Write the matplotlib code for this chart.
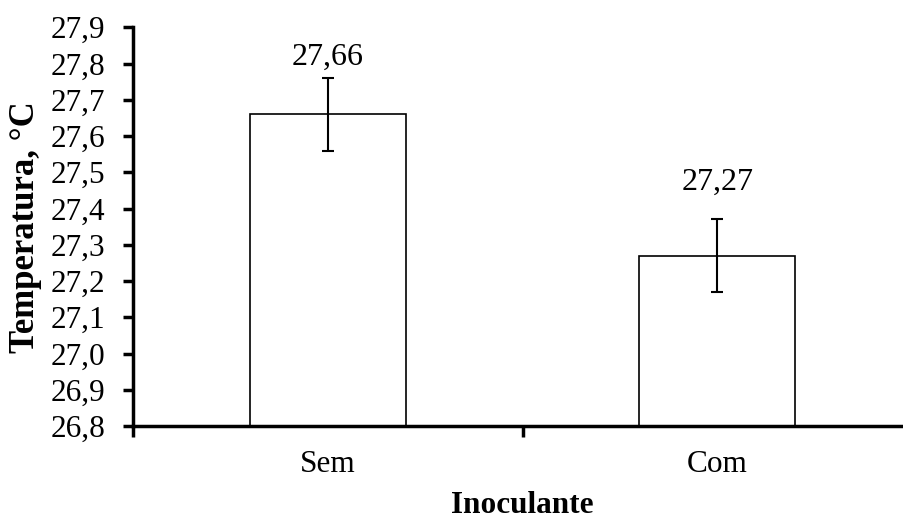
import matplotlib
matplotlib.use("Agg")
import matplotlib.pyplot as plt
from matplotlib.ticker import FuncFormatter, FixedLocator

categories = ["Sem", "Com"]
values = [27.66, 27.27]
errors = [0.10, 0.10]
value_labels = ["27,66", "27,27"]
y_ticks = [26.8, 26.9, 27.0, 27.1, 27.2, 27.3, 27.4, 27.5, 27.6, 27.7, 27.8, 27.9]

plt.rcParams['font.family'] = ['Liberation Serif', 'DejaVu Serif']

W, H = 904, 522
fig = plt.figure(figsize=(W / 100, H / 100), dpi=100)
left_px, right_px = 133, 912
top_px, bottom_px = 27.3, 426
ax = fig.add_axes([left_px / W, (H - bottom_px) / H,
                   (right_px - left_px) / W, (bottom_px - top_px) / H])

x = list(range(len(categories)))
ax.bar(x, [v - 26.8 for v in values], bottom=26.8, width=0.4,
       facecolor="white", edgecolor="black", linewidth=1.2, zorder=2)
ax.errorbar(x, values, yerr=errors, fmt="none", ecolor="black",
            elinewidth=1.5, capsize=4.5, capthick=1.5, zorder=3)

label_offsets = [15, 27]  # points above error bar top (label centre)
for xi, v, e, lab, off in zip(x, values, errors, value_labels, label_offsets):
    ax.annotate(lab, (xi, v + e), xytext=(0, off), textcoords="offset points",
                ha="center", va="center", fontsize=23)

ax.set_xlim(-0.5, 1.5)
ax.set_ylim(26.8, 27.9)
ax.yaxis.set_major_locator(FixedLocator(y_ticks))
ax.yaxis.set_major_formatter(FuncFormatter(lambda v, p: f"{v:.1f}".replace(".", ",")))

ax.set_xticks([-0.5, 0.5, 1.5])
ax.set_xticklabels(["", "", ""])
ax.set_xticks(x, minor=True)
ax.set_xticklabels(categories, minor=True)
ax.tick_params(axis="x", which="minor", length=0, pad=17, labelsize=22.5)
ax.tick_params(axis="x", which="major", length=8, width=2.5, direction="out")
ax.tick_params(axis="y", which="major", length=7, width=2.5, direction="out",
               pad=13, labelsize=22.5)

for s in ["top", "right"]:
    ax.spines[s].set_visible(False)
for s in ["left", "bottom"]:
    ax.spines[s].set_linewidth(2.5)

ax.set_ylabel("Temperatura, °C", fontsize=25, fontweight="bold", labelpad=6)
ax.set_xlabel("Inoculante", fontsize=22.5, fontweight="bold", labelpad=9)

fig.savefig("out.png", dpi=100)
